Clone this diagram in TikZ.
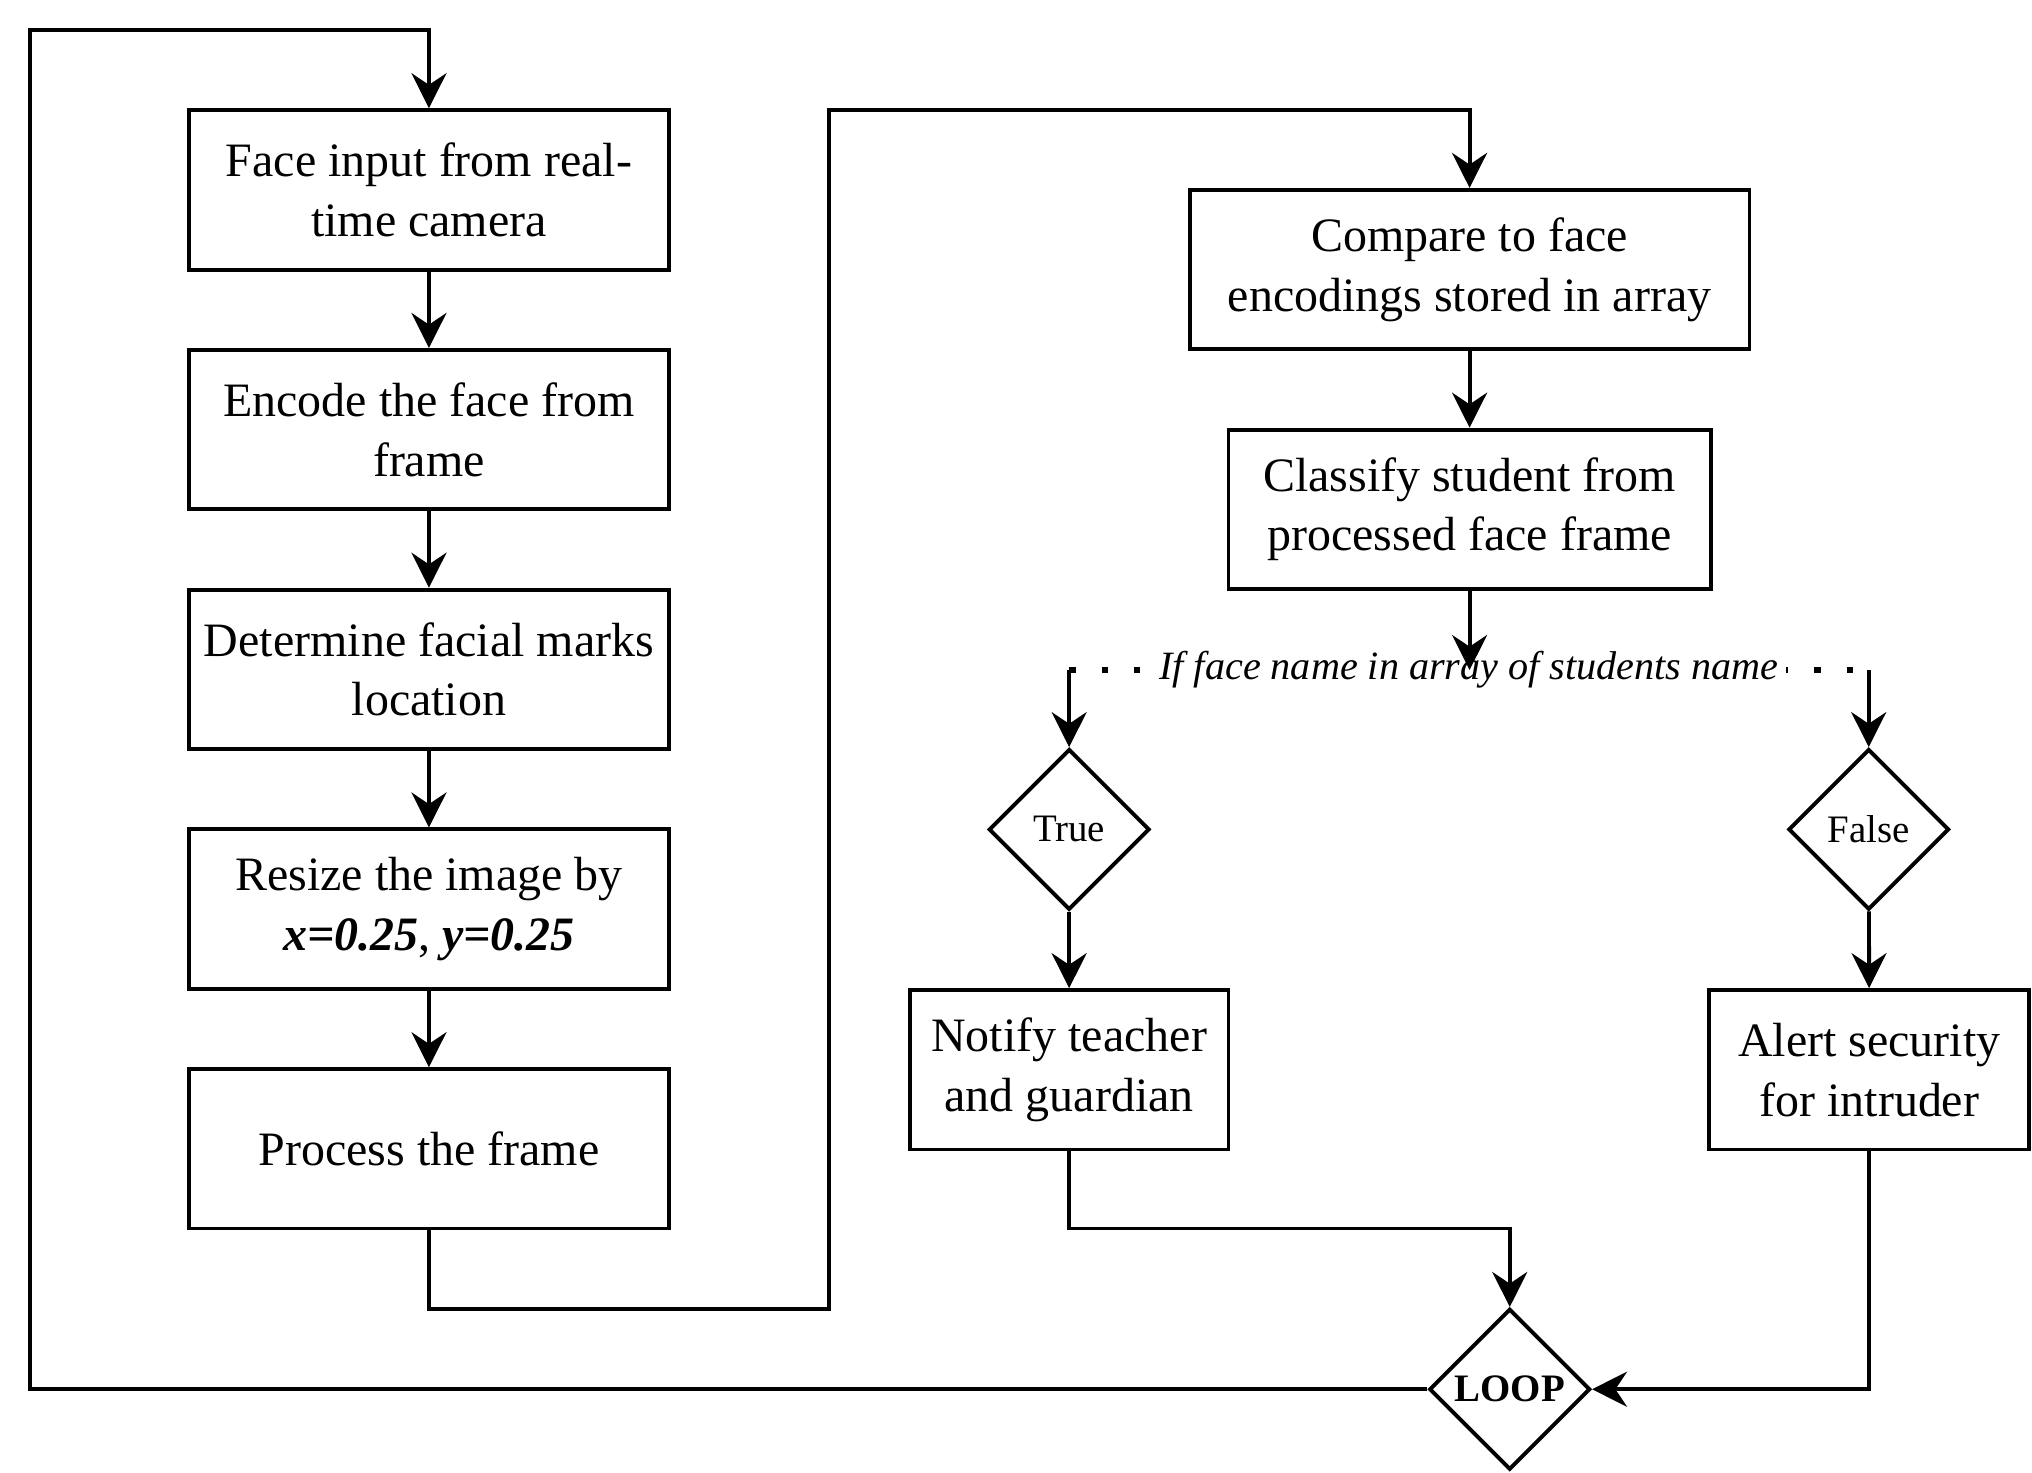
\documentclass[tikz,border=0pt]{standalone}
\usepackage{fontspec}
\setmainfont{Liberation Serif}
\usetikzlibrary{shapes.geometric, positioning, arrows.meta}
\tikzset{processNode/.style={shape=rectangle, draw, line width=3pt, align=center, inner sep=0pt, minimum height=123pt, font=\fontsize{37}{46}\selectfont}}
\tikzset{choiceNode/.style={shape=diamond, draw, line width=3pt, inner sep=0pt, minimum width=124pt, minimum height=124pt, font=\fontsize{30}{36}\selectfont}}
\tikzset{flowArrow/.style={line width=3pt, -{Stealth[length=27pt, width=27pt, inset=9pt]}}}
\tikzset{dotLine/.style={line width=5pt, dash pattern=on 5pt off 20pt}}

\begin{document}
\begin{tikzpicture}[x=1pt, y=-1pt, node distance=59pt]

\useasboundingbox (0,0) rectangle (1568,1136);

% Capture column
\node[processNode, minimum width=371pt] (face) at (331,146.5) {Face input from real-\\time camera};
\node[processNode, minimum width=371pt, below=of face] (encode) {Encode the face from\\frame};
\node[processNode, minimum width=371pt, below=of encode] (marks) {Determine facial marks\\location};
\node[processNode, minimum width=371pt, below=of marks] (resize) {Resize the image by\\{\bfseries\itshape x=0.25}, {\bfseries\itshape y=0.25}};
\node[processNode, minimum width=371pt, below=of resize] (process) {Process the frame};

% Recognition column
\node[processNode, minimum width=432pt] (compare) at (1134,208) {Compare to face\\encodings stored in array};
\node[processNode, minimum width=372pt, below=of compare] (classify) {Classify student from\\processed face frame};

% Decision
\node[choiceNode] (true) at (825,640) {True};
\node[choiceNode] (false) at (1442,640) {False};
\node[processNode, minimum width=246pt] (notify) at (825,825.5) {Notify teacher\\and guardian};
\node[processNode, minimum width=247pt] (alert) at (1442.5,825.5) {Alert security\\for intruder};
\node[choiceNode] (loop) at (1165,1072) {\bfseries LOOP};

\coordinate (splitL) at (825,517);
\coordinate (splitM) at (1134,517);
\coordinate (splitR) at (1442,517);
\coordinate (bendLow) at (640,1010);
\coordinate (bendHigh) at (640,85);
\coordinate (joinT) at (1165,948);
\coordinate (backTop) at (23,23);

\draw[flowArrow] (face) -- (encode);
\draw[flowArrow] (encode) -- (marks);
\draw[flowArrow] (marks) -- (resize);
\draw[flowArrow] (resize) -- (process);
\draw[flowArrow] (process.south) |- (bendLow) -- (bendHigh) -| (compare.north);
\draw[flowArrow] (compare) -- (classify);

\draw[dotLine] (splitL) -- node[fill=white, inner sep=6pt, font=\fontsize{31}{36}\selectfont\itshape] (cond) {If face name in array of students name} (splitR);
\draw[flowArrow] (classify) -- (splitM);
\draw[flowArrow] (splitL) -- (true);
\draw[flowArrow] (splitR) -- (false);
\draw[flowArrow] (true) -- (notify);
\draw[flowArrow] (false) -- (alert);

% Back to start
\draw[flowArrow] (notify.south) |- (joinT) -- (loop.north);
\draw[flowArrow] (alert.south) |- (loop.east);
\draw[flowArrow] (loop.west) -| (backTop) -| (face.north);

\end{tikzpicture}
\end{document}
